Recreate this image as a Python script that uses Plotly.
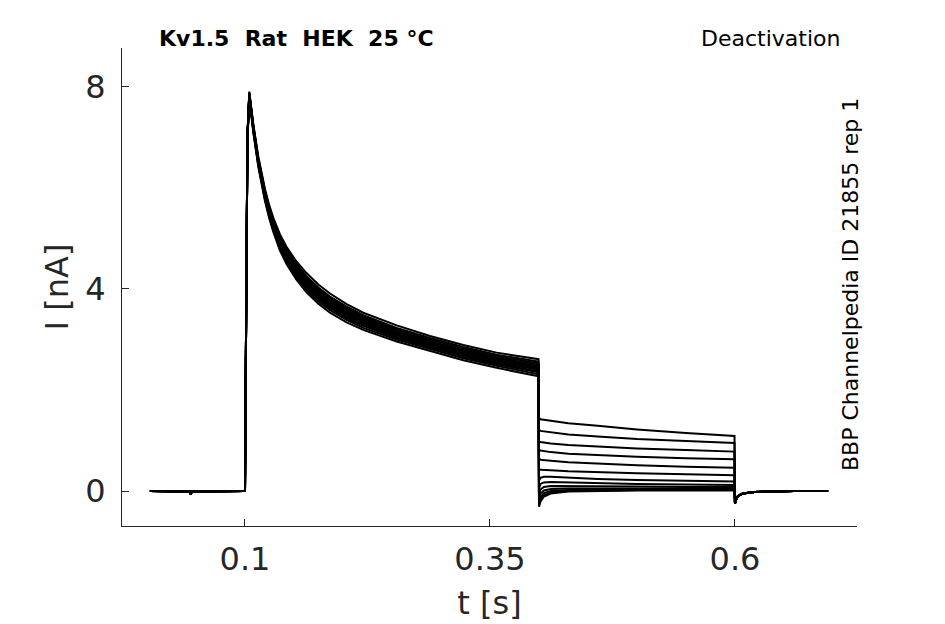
import plotly.graph_objects as go

# Kv1.5 deactivation protocol, 13 sweeps, current in nA, time in s
t_base = [0.003, 0.044, 0.0445, 0.046, 0.0995]
i_base = [0.0, -0.01, -0.06, -0.01, 0.0]

t_act = [0.1, 0.1012, 0.1025, 0.1044, 0.1085, 0.1136, 0.1204, 0.1247, 0.1289, 0.1357, 0.1425,
         0.1527, 0.163, 0.1749, 0.1867, 0.2037, 0.2207, 0.2548, 0.2888, 0.3228, 0.3568, 0.3995]
i_act = [
    [0, 3.5, 7.05, 7.91, 7.26, 6.62, 5.98, 5.66, 5.41, 5.08, 4.83, 4.54, 4.31, 4.09, 3.91, 3.70, 3.53, 3.28, 3.07, 2.89, 2.74, 2.61],
    [0, 3.5, 7.04, 7.89, 7.24, 6.59, 5.94, 5.62, 5.37, 5.03, 4.78, 4.49, 4.25, 4.03, 3.85, 3.65, 3.48, 3.23, 3.03, 2.85, 2.70, 2.56],
    [0, 3.5, 7.03, 7.88, 7.22, 6.57, 5.92, 5.60, 5.34, 5.00, 4.75, 4.45, 4.22, 4.00, 3.82, 3.61, 3.45, 3.20, 3.00, 2.82, 2.67, 2.53],
    [0, 3.5, 7.02, 7.87, 7.21, 6.56, 5.90, 5.58, 5.32, 4.98, 4.72, 4.42, 4.19, 3.97, 3.79, 3.58, 3.42, 3.18, 2.97, 2.79, 2.64, 2.50],
    [0, 3.5, 7.01, 7.86, 7.20, 6.54, 5.88, 5.56, 5.30, 4.95, 4.69, 4.40, 4.16, 3.94, 3.76, 3.56, 3.39, 3.15, 2.95, 2.77, 2.62, 2.47],
    [0, 3.5, 7.00, 7.86, 7.19, 6.53, 5.87, 5.54, 5.28, 4.94, 4.68, 4.38, 4.14, 3.92, 3.74, 3.54, 3.38, 3.14, 2.94, 2.76, 2.61, 2.46],
    [0, 3.5, 7.00, 7.85, 7.18, 6.52, 5.86, 5.53, 5.27, 4.92, 4.66, 4.36, 4.12, 3.90, 3.72, 3.52, 3.36, 3.12, 2.92, 2.74, 2.59, 2.44],
    [0, 3.5, 7.00, 7.84, 7.17, 6.51, 5.85, 5.52, 5.26, 4.90, 4.64, 4.34, 4.10, 3.88, 3.70, 3.50, 3.34, 3.10, 2.90, 2.72, 2.58, 2.42],
    [0, 3.5, 6.99, 7.84, 7.16, 6.50, 5.83, 5.50, 5.24, 4.88, 4.62, 4.32, 4.07, 3.85, 3.67, 3.48, 3.32, 3.08, 2.88, 2.70, 2.55, 2.40],
    [0, 3.5, 6.98, 7.83, 7.15, 6.48, 5.81, 5.48, 5.21, 4.86, 4.59, 4.29, 4.04, 3.82, 3.64, 3.45, 3.29, 3.06, 2.86, 2.68, 2.53, 2.37],
    [0, 3.5, 6.97, 7.82, 7.14, 6.47, 5.79, 5.46, 5.19, 4.83, 4.57, 4.26, 4.02, 3.80, 3.62, 3.42, 3.27, 3.03, 2.84, 2.66, 2.51, 2.35],
    [0, 3.5, 6.96, 7.81, 7.12, 6.45, 5.77, 5.43, 5.17, 4.80, 4.53, 4.23, 3.98, 3.76, 3.58, 3.39, 3.23, 3.00, 2.81, 2.63, 2.48, 2.31],
    [0, 3.5, 6.95, 7.79, 7.10, 6.42, 5.74, 5.40, 5.13, 4.76, 4.49, 4.18, 3.93, 3.71, 3.53, 3.34, 3.19, 2.96, 2.77, 2.59, 2.44, 2.27],
]

t_tail = [0.4, 0.4015, 0.405, 0.412, 0.43, 0.46, 0.5, 0.55, 0.5995]
i_tail = [
    [1.45, 1.42, 1.41, 1.39, 1.34, 1.29, 1.22, 1.15, 1.09],
    [1.22, 1.19, 1.18, 1.16, 1.12, 1.08, 1.03, 0.99, 0.95],
    [0.99, 0.97, 0.96, 0.94, 0.91, 0.88, 0.84, 0.81, 0.78],
    [0.82, 0.80, 0.79, 0.77, 0.74, 0.71, 0.68, 0.65, 0.63],
    [0.64, 0.62, 0.61, 0.60, 0.57, 0.54, 0.51, 0.48, 0.46],
    [0.42, 0.42, 0.42, 0.41, 0.39, 0.37, 0.35, 0.33, 0.31],
    [0.20, 0.26, 0.28, 0.28, 0.26, 0.24, 0.22, 0.20, 0.19],
    [0.05, 0.14, 0.17, 0.18, 0.17, 0.15, 0.14, 0.13, 0.12],
    [-0.08, 0.03, 0.08, 0.10, 0.10, 0.09, 0.09, 0.08, 0.08],
    [-0.15, -0.05, 0.01, 0.04, 0.05, 0.05, 0.05, 0.05, 0.05],
    [-0.22, -0.12, -0.04, 0.00, 0.02, 0.03, 0.03, 0.03, 0.03],
    [-0.27, -0.17, -0.08, -0.03, 0.00, 0.01, 0.02, 0.02, 0.02],
    [-0.31, -0.21, -0.11, -0.05, -0.01, 0.00, 0.01, 0.01, 0.01],
]

t_post = [0.6, 0.6008, 0.603, 0.608, 0.62, 0.64, 0.66, 0.695]
i_post = [-0.25, -0.18, -0.10, -0.05, -0.02, -0.01, 0.0, 0.0]

x_ticks = [0.1, 0.35, 0.6]
x_labels = ['0.1', '0.35', '0.6']
y_ticks = [0, 4, 8]

AXIS_COLOR = '#262626'
FONT = 'DejaVu Sans, sans-serif'

fig = go.Figure()

for act, tail in zip(i_act, i_tail):
    fig.add_trace(go.Scatter(
        x=t_base + t_act + t_tail + t_post,
        y=i_base + act + tail + i_post,
        mode='lines',
        line=dict(color='black', width=2),
        showlegend=False,
        hoverinfo='skip'
    ))

# page body has an 8px margin, so plot box is shifted back by 8px
fig.update_layout(
    width=945,
    height=624,
    paper_bgcolor='white',
    plot_bgcolor='white',
    margin=dict(l=114, r=96, t=40, b=106),
    font=dict(family=FONT, color=AXIS_COLOR),
    xaxis=dict(
        range=[-0.0255, 0.7245],
        tickvals=x_ticks,
        ticktext=x_labels,
        ticks='inside',
        ticklen=7,
        tickcolor=AXIS_COLOR,
        ticklabelstandoff=5,
        showline=True,
        linecolor=AXIS_COLOR,
        linewidth=1,
        showgrid=False,
        zeroline=False,
        tickfont=dict(size=32, color=AXIS_COLOR),
        title=dict(text='t [s]', font=dict(size=32, color=AXIS_COLOR), standoff=14),
    ),
    yaxis=dict(
        range=[-0.693, 8.772],
        tickvals=y_ticks,
        ticks='inside',
        ticklen=7,
        tickcolor=AXIS_COLOR,
        ticklabelstandoff=9,
        showline=True,
        linecolor=AXIS_COLOR,
        linewidth=1,
        showgrid=False,
        zeroline=False,
        tickfont=dict(size=32, color=AXIS_COLOR),
        title=dict(text='I [nA]', font=dict(size=32, color=AXIS_COLOR), standoff=7),
    ),
    annotations=[
        dict(text='<b>Kv1.5  Rat  HEK  25 °C</b>', xref='paper', yref='paper',
             x=(157 - 122) / 735, y=1 + 9 / 478, xanchor='left', yanchor='middle',
             showarrow=False, font=dict(size=22, color='black')),
        dict(text='Deactivation', xref='paper', yref='paper',
             x=(842 - 122) / 735, y=1 + 9 / 478, xanchor='right', yanchor='middle',
             showarrow=False, font=dict(size=22, color='black')),
        dict(text='BBP Channelpedia ID 21855 rep 1', xref='paper', yref='paper',
             x=(850 - 122) / 735, y=(526 - 285) / 478, xanchor='center', yanchor='middle',
             textangle=-90, showarrow=False, font=dict(size=22, color='black')),
    ],
)

fig.write_html('out.html')
